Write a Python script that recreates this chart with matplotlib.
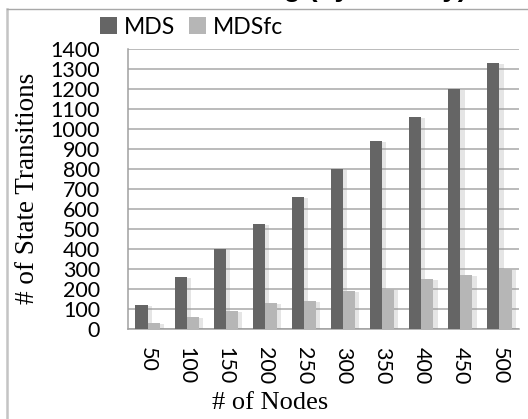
import matplotlib
matplotlib.use("Agg")
import matplotlib.pyplot as plt
import matplotlib.patheffects as pe
from matplotlib.lines import Line2D
import numpy as np

nodes = ["50", "100", "150", "200", "250", "300", "350", "400", "450", "500"]
mds = [120, 260, 400, 525, 660, 800, 940, 1060, 1200, 1330]
mdsfc = [30, 60, 90, 130, 140, 190, 200, 250, 270, 300]
yticks = list(range(0, 1401, 100))

W, H = 528, 419
fig = plt.figure(figsize=(W / 100, H / 100), dpi=100)
fig.patch.set_facecolor("white")

ax = fig.add_axes([128 / W, 1 - 328.5 / H, 391 / W, (328.5 - 49) / H])

x = np.arange(len(nodes))
bw = 0.31
shadow = [pe.SimplePatchShadow(offset=(3, -1), shadow_rgbFace="#999999", alpha=0.25), pe.Normal()]
b1 = ax.bar(x - bw / 2, mds, bw, color="#656565", label="MDS", zorder=3)
b2 = ax.bar(x + bw / 2, mdsfc, bw, color="#b6b6b6", label="MDSfc", zorder=3)
for p in list(b1) + list(b2):
    p.set_path_effects(shadow)

ax.set_xlim(-0.5, len(nodes) - 0.5)
ax.set_ylim(0, 1400)
ax.set_yticks(yticks)
ax.set_yticklabels([str(v) for v in yticks])
ax.set_xticks(x)
ax.set_xticklabels(nodes, rotation=-90)
ax.yaxis.grid(True, color="#a8a8a8", lw=1.1, zorder=0)
ax.set_axisbelow(True)
for s in ["top", "right"]:
    ax.spines[s].set_visible(False)
ax.spines["left"].set_color("#a0a0a0")
ax.spines["bottom"].set_color("#a0a0a0")
ax.spines["left"].set_linewidth(1.1)
ax.spines["bottom"].set_linewidth(1.1)
ax.tick_params(axis="both", length=0)
ax.tick_params(axis="y", pad=20)
ax.tick_params(axis="x", pad=13)
for t in ax.get_yticklabels() + ax.get_xticklabels():
    t.set_fontfamily("Lato")
    t.set_fontsize(15.5)
    t.set_color("black")
for t in ax.get_xticklabels():
    t.set_va("top")

ax.set_xlabel("# of Nodes", fontfamily="Liberation Serif", fontsize=19)
ax.xaxis.set_label_coords((270 - 128) / 391, (328.5 - 392) / (328.5 - 49))
ax.xaxis.label.set_verticalalignment("top")
ax.set_ylabel("# of State Transitions", fontfamily="Liberation Serif", fontsize=19.5)
ax.yaxis.set_label_coords((28 - 128) / 391, 0.5)
ax.yaxis.label.set_verticalalignment("center")

leg = fig.legend(handles=[b1, b2], labels=["MDS", "MDSfc"], loc="center left",
                 bbox_to_anchor=(100 / W, 1 - 27 / H), ncol=2, frameon=False,
                 prop={"family": "Lato", "size": 16.5}, handlelength=0.75,
                 handleheight=0.75, handletextpad=0.3, columnspacing=0.6,
                 borderpad=0, borderaxespad=0)
for h in leg.legend_handles:
    h.set_path_effects([])

# chart frame
fig.add_artist(Line2D([7 / W, 7 / W], [0, 1 - 9.5 / H], transform=fig.transFigure,
                      color="#c4c4c4", lw=1.8))
fig.add_artist(Line2D([7 / W, 1], [1 - 9.5 / H, 1 - 9.5 / H], transform=fig.transFigure,
                      color="#a8a8a8", lw=1.0))

# cropped title (only descenders visible)
fig.text(335 / W, 1 + 4.5 / H, "Scaling (by Density)", ha="center", va="baseline",
         fontfamily="Liberation Sans", fontweight="bold", fontsize=20)

fig.savefig("out.png", dpi=100)
